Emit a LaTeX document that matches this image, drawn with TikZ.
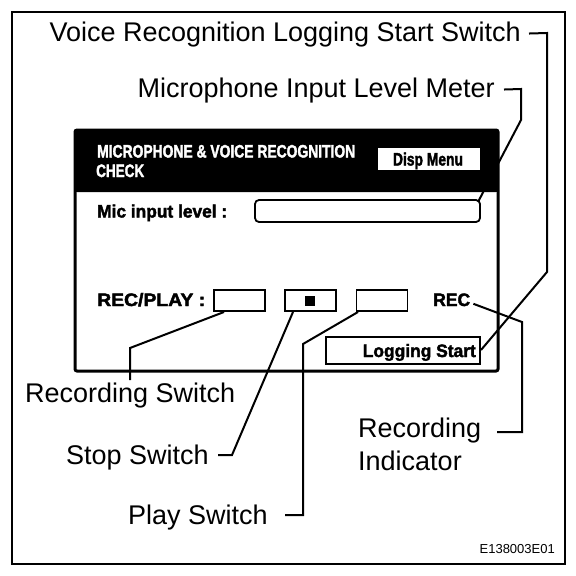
\documentclass[tikz,border=0pt]{standalone}
\usepackage{fontspec}
\usepackage{graphicx}
\setmainfont{Liberation Sans}
\newfontfamily\pfont[FakeBold=2.2]{Liberation Sans Bold}
\newcommand\pw[2]{\resizebox{#1}{\height}{#2}}
\begin{document}
\begin{tikzpicture}[x=1pt,y=-1pt,
  lbl/.style={inner sep=0pt,font=\fontsize{27}{30}\selectfont},
  pnl/.style={inner sep=0pt,font=\fontsize{18}{20}\pfont},
  leader/.style={line width=2pt},
  btn/.style={draw,line width=1.8pt}]
\useasboundingbox (0,0) rectangle (576,576);
% outer frame
\draw[line width=1.8pt] (12,12) rectangle (565,564);
% panel
\fill[black,rounded corners=2pt] (75,130) rectangle (498,192);
\fill[black] (75,160) rectangle (498,192);
\draw[line width=3pt,rounded corners=2pt] (75,130) rectangle (498,371);
\node[pnl,text=white,anchor=base west] (title) at (97,157.5) {\pw{258pt}{MICROPHONE \& VOICE RECOGNITION}};
\node[pnl,text=white,anchor=base west] (check) at (96,177) {\pw{48pt}{CHECK}};
\node[fill=white,minimum width=102pt,minimum height=22pt,inner sep=0pt] (disp) at (429,159) {};
\node[pnl,anchor=base] at (428,165.5) {\pw{70pt}{Disp Menu}};
\node[pnl,anchor=base west] (mic) at (97,217.5) {\pw{130pt}{Mic input level :}};
\draw[line width=1.8pt,rounded corners=4pt] (255,200) rectangle (480,222);
\coordinate (meter) at (478,202);
\node[pnl,anchor=base west] (recplay) at (97,306) {\pw{108pt}{REC/PLAY :}};
\node[btn,minimum width=51pt,minimum height=21pt,inner sep=0pt] (b1) at (239.5,300.5) {};
\node[btn,minimum width=51pt,minimum height=21pt,inner sep=0pt] (b2) at (310.5,300.5) {};
\fill (305,295.5) rectangle (315,305.5);
\node[btn,minimum width=51pt,minimum height=21pt,inner sep=0pt] (b3) at (382,300.5) {};
\node[pnl,anchor=base west] (rec) at (433,306) {\pw{37pt}{REC}};
\node[btn,minimum width=154pt,minimum height=27pt,inner sep=0pt] (logbox) at (403,350.5) {};
\node[pnl,anchor=base east] (logtxt) at (476,357) {\pw{113pt}{Logging Start}};
% labels
\node[lbl,anchor=base east] (vr) at (521,41.5) {Voice Recognition Logging Start Switch};
\node[lbl,anchor=base east] (mlm) at (495,97.5) {Microphone Input Level Meter};
\node[lbl,anchor=base west] (rsw) at (25,402) {Recording Switch};
\node[lbl,anchor=base west] (ssw) at (66,464.5) {Stop Switch};
\node[lbl,anchor=base west] (psw) at (128,524.5) {Play Switch};
\node[lbl,anchor=base west] (ri1) at (358,437.5) {Recording};
\node[lbl,anchor=base west] (ri2) at (358,470.5) {Indicator};
\node[inner sep=0pt,font=\fontsize{13}{15}\selectfont,anchor=base east] (code) at (555,553) {E138003E01};
% leaders
\draw[leader] ([xshift=8pt,yshift=1pt]vr.east) -- (547,33) -- (547,272) -- (481,350);
\draw[leader] ([xshift=9pt,yshift=1pt]mlm.east) -- (521,89) -- (521,120) -- (meter);
\draw[leader] ([xshift=3pt,yshift=-4pt]rec.east) -- (522,322) -- (522,432) -- (497,432);
\draw[leader] (224,312) -- (130,348) -- (130,380);
\draw[leader] (293,312) -- (232,455) -- (218,455);
\draw[leader] (358,312) -- (303,344) -- (303,515) -- (285,515);
\end{tikzpicture}
\end{document}
